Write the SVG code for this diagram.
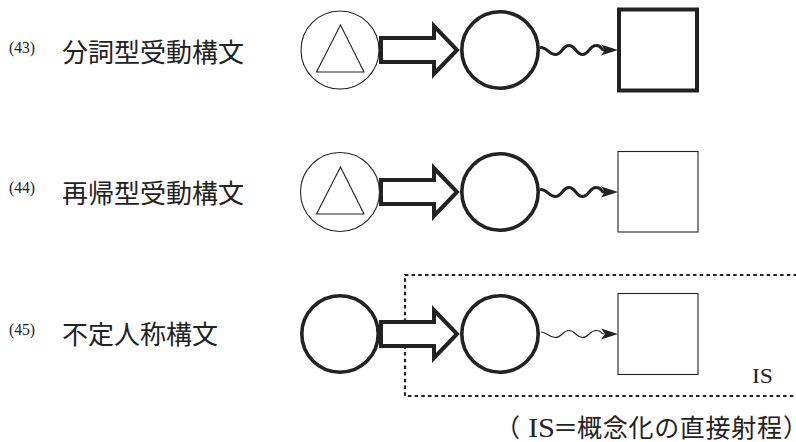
<svg xmlns="http://www.w3.org/2000/svg" width="796" height="442" viewBox="0 0 796 442">
<style>
.lbl{font-family:"Noto Sans CJK JP","Noto Sans CJK SC",sans-serif;font-size:26px;fill:#222}
.num{font-family:"Liberation Serif",serif;font-size:17px;fill:#222}
.thin{fill:#fff;stroke:#222;stroke-width:1.1}
.thick{fill:#fff;stroke:#222;stroke-width:3.6}
.blk{fill:#fff;stroke:#222;stroke-width:4;stroke-linejoin:miter}
.wave{fill:none;stroke:#222;stroke-width:3;stroke-linecap:round}
.wavethin{fill:none;stroke:#222;stroke-width:1.1}
.head{fill:#222;stroke:none}
.ser{font-family:"Liberation Serif",serif;fill:#222}
.cjk{font-family:"Noto Sans CJK JP","Noto Sans CJK SC",sans-serif;fill:#222}
</style>
<defs>
<path id="barrow" d="M381,-12 H434 V-24 L457,0 L434,24 V12 H381 Z"/>
<path id="ahead" d="M618,0 L601,-5.5 L605,0 L601,5.5 Z"/>
<path id="tri" d="M340.5,-25 L316.5,22 L364,22 Z"/>
</defs>

<!-- Labels -->
<g id="label43">
<text class="num" x="9" y="53" textLength="26" lengthAdjust="spacingAndGlyphs">(43)</text>
<text class="lbl" x="62" y="61.5">分詞型受動構文</text>
</g>
<g id="label44">
<text class="num" x="9" y="193" textLength="26" lengthAdjust="spacingAndGlyphs">(44)</text>
<text class="lbl" x="62" y="202.5">再帰型受動構文</text>
</g>
<g id="label45">
<text class="num" x="9" y="334.5" textLength="26" lengthAdjust="spacingAndGlyphs">(45)</text>
<text class="lbl" x="62" y="343.5">不定人称構文</text>
</g>

<!-- IS region -->
<g id="is-region">
<path d="M797,275 H405 V396 H797" fill="none" stroke="#222" stroke-width="2.2" stroke-dasharray="3.5 3.2"/>
<text class="ser" x="752" y="383" font-size="22" textLength="21" lengthAdjust="spacingAndGlyphs">IS</text>
</g>

<!-- Row 1 nodes -->
<g id="r1-source" transform="translate(0,50)">
<circle class="thin" cx="340" cy="0" r="39"/>
<use href="#tri" class="thin" fill="none"/>
</g>
<g id="r1-middle"><circle class="thick" cx="500" cy="50" r="38.2"/></g>
<g id="r1-target"><rect x="619" y="9.5" width="78" height="81" fill="#fff" stroke="#222" stroke-width="4"/></g>

<!-- Row 2 nodes -->
<g id="r2-source" transform="translate(0,192)">
<circle class="thin" cx="340" cy="0" r="39.5"/>
<use href="#tri" class="thin" fill="none"/>
</g>
<g id="r2-middle"><circle class="thick" cx="500" cy="192" r="38.2"/></g>
<g id="r2-target"><rect class="thin" x="618" y="151.5" width="80" height="80.5"/></g>

<!-- Row 3 nodes -->
<g id="r3-source"><circle class="thick" cx="340" cy="334" r="38.2"/></g>
<g id="r3-middle"><circle class="thick" cx="500" cy="334" r="38.2"/></g>
<g id="r3-target"><rect class="thin" x="618" y="293.5" width="80" height="81"/></g>

<!-- Connectors -->
<g id="connectors">
<use href="#barrow" class="blk" transform="translate(0,50)"/>
<use href="#barrow" class="blk" transform="translate(0,192)"/>
<use href="#barrow" class="blk" transform="translate(0,334)"/>
<g transform="translate(0,50)">
<path class="wave" d="M541,-2.5 C547,-2.5 549,4.5 555.5,4.5 S562.5,-4.5 569,-4.5 S576,4.5 582.5,4.5 S589.5,-4.5 596,-4.5 S600,-0.5 604,0"/>
<use href="#ahead" class="head"/>
</g>
<g transform="translate(0,192)">
<path class="wave" d="M541,-2.5 C547,-2.5 549,4.5 555.5,4.5 S562.5,-4.5 569,-4.5 S576,4.5 582.5,4.5 S589.5,-4.5 596,-4.5 S600,-0.5 604,0"/>
<use href="#ahead" class="head"/>
</g>
<g transform="translate(0,334)">
<path class="wavethin" d="M541,-2 C547,-2 549,3.5 555.5,3.5 S562.5,-3.5 569,-3.5 S576,3.5 582.5,3.5 S589.5,-3.5 596,-3.5 S600,-0.5 604,0"/>
<use href="#ahead" class="head"/>
</g>
</g>

<!-- Caption -->
<text id="caption" y="436.5" font-size="25">
<tspan class="cjk" x="495">（</tspan><tspan class="ser" x="528" font-size="27" textLength="27" lengthAdjust="spacingAndGlyphs">IS</tspan><tspan class="cjk" x="553">＝</tspan><tspan class="cjk" x="577" textLength="205" lengthAdjust="spacing">概念化の直接射程</tspan><tspan class="cjk" x="784" style="font-feature-settings:'palt'">）</tspan>
</text>
</svg>
